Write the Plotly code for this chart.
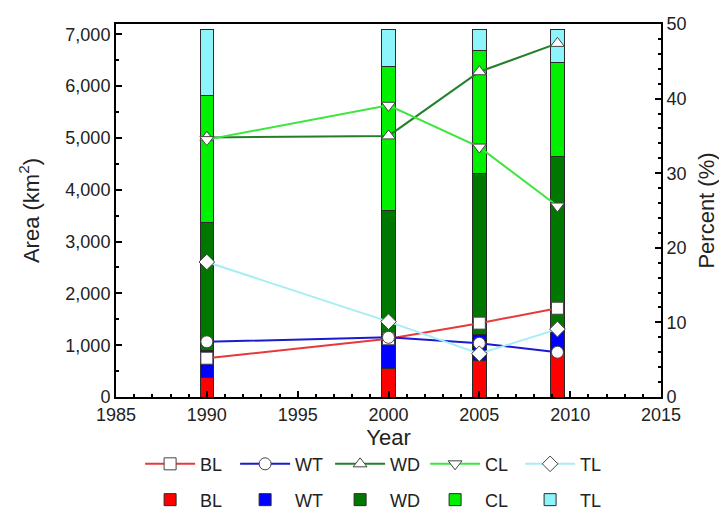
import plotly.graph_objects as go

years = [1990, 2000, 2005, 2009.3]
classes = ["BL", "WT", "WD", "CL", "TL"]

# Area (km2) per class, stacked bars
area_BL = [369, 554, 703, 845]
area_WT = [525, 568, 511, 426]
area_WD = [2471, 2485, 3096, 3365]
area_CL = [2450, 2776, 2379, 1818]
area_TL = [1285, 717, 412, 646]

# Percent (%) per class, lines
pct_BL = [5.2, 7.8, 9.9, 11.9]
pct_WT = [7.4, 8.0, 7.2, 6.0]
pct_WD = [34.8, 35.0, 43.6, 47.4]
pct_CL = [34.5, 39.1, 33.5, 25.6]
pct_TL = [18.1, 10.1, 5.8, 9.1]

areas = [area_BL, area_WT, area_WD, area_CL, area_TL]
pcts = [pct_BL, pct_WT, pct_WD, pct_CL, pct_TL]
bar_colors = ["#FF0000", "#0000FF", "#007800", "#00F000", "#8EF4FC"]
line_colors = ["#E8383C", "#1A1AD0", "#22802A", "#3CE63C", "#A6EEF5"]
symbols = ["square", "circle", "triangle-up", "triangle-down", "diamond"]

FONT = "Liberation Sans, Arial, sans-serif"
fig = go.Figure()

for name, vals, col in zip(classes, areas, bar_colors):
    fig.add_trace(go.Bar(
        x=years, y=vals, name=name, width=0.75,
        marker=dict(color=col, line=dict(color="#2a2a2a", width=1)),
        legend="legend2", yaxis="y"))

for name, vals, col, sym in zip(classes, pcts, line_colors, symbols):
    fig.add_trace(go.Scatter(
        x=years, y=vals, name=name, mode="lines+markers",
        line=dict(color=col, width=2),
        marker=dict(symbol=sym, size=12, color="white",
                    line=dict(color="#444444", width=1)),
        legend="legend", yaxis="y2"))

fig.update_layout(
    barmode="stack",
    width=711, height=510,
    margin=dict(l=108, r=58, t=16, b=121, autoexpand=False),
    paper_bgcolor="white", plot_bgcolor="white",
    font=dict(family=FONT, size=18, color="#222222"),
    xaxis=dict(
        range=[1985, 2015], dtick=5, tick0=1985,
        ticks="inside", ticklen=6, tickwidth=1.5, tickcolor="black",
        minor=dict(dtick=1, ticks="inside", ticklen=3, tickcolor="black"),
        showline=True, linecolor="black", linewidth=2, mirror=True,
        showgrid=False, zeroline=False,
        title=dict(text="Year", font=dict(size=22), standoff=2),
        tickfont=dict(size=18),
    ),
    yaxis=dict(
        range=[0, 7200], dtick=1000, tickformat=",",
        ticks="inside", ticklen=6, tickwidth=1.5, tickcolor="black",
        minor=dict(dtick=500, ticks="inside", ticklen=3, tickcolor="black"),
        showline=True, linecolor="black", linewidth=2,
        showgrid=False, zeroline=False,
        title=dict(text="Area (km<sup>2</sup>)", font=dict(size=22), standoff=20),
        tickfont=dict(size=18),
    ),
    yaxis2=dict(
        range=[0, 50], dtick=10, overlaying="y", side="right",
        ticks="inside", ticklen=6, tickwidth=1.5, tickcolor="black",
        minor=dict(dtick=2, ticks="inside", ticklen=3, tickcolor="black"),
        showline=True, linecolor="black", linewidth=2,
        showgrid=False, zeroline=False,
        title=dict(text="Percent (%)", font=dict(size=22), standoff=16),
        tickfont=dict(size=18),
    ),
    legend=dict(
        orientation="h", x=0.48, xanchor="center", y=-0.18, yanchor="middle",
        itemwidth=50, entrywidth=30, entrywidthmode="pixels",
        font=dict(size=18), bgcolor="rgba(0,0,0,0)", traceorder="normal",
    ),
    legend2=dict(
        orientation="h", x=0.48, xanchor="center", y=-0.276, yanchor="middle",
        itemwidth=50, entrywidth=30, entrywidthmode="pixels",
        font=dict(size=18), bgcolor="rgba(0,0,0,0)", traceorder="normal",
    ),
)

fig.write_html("out.html")
